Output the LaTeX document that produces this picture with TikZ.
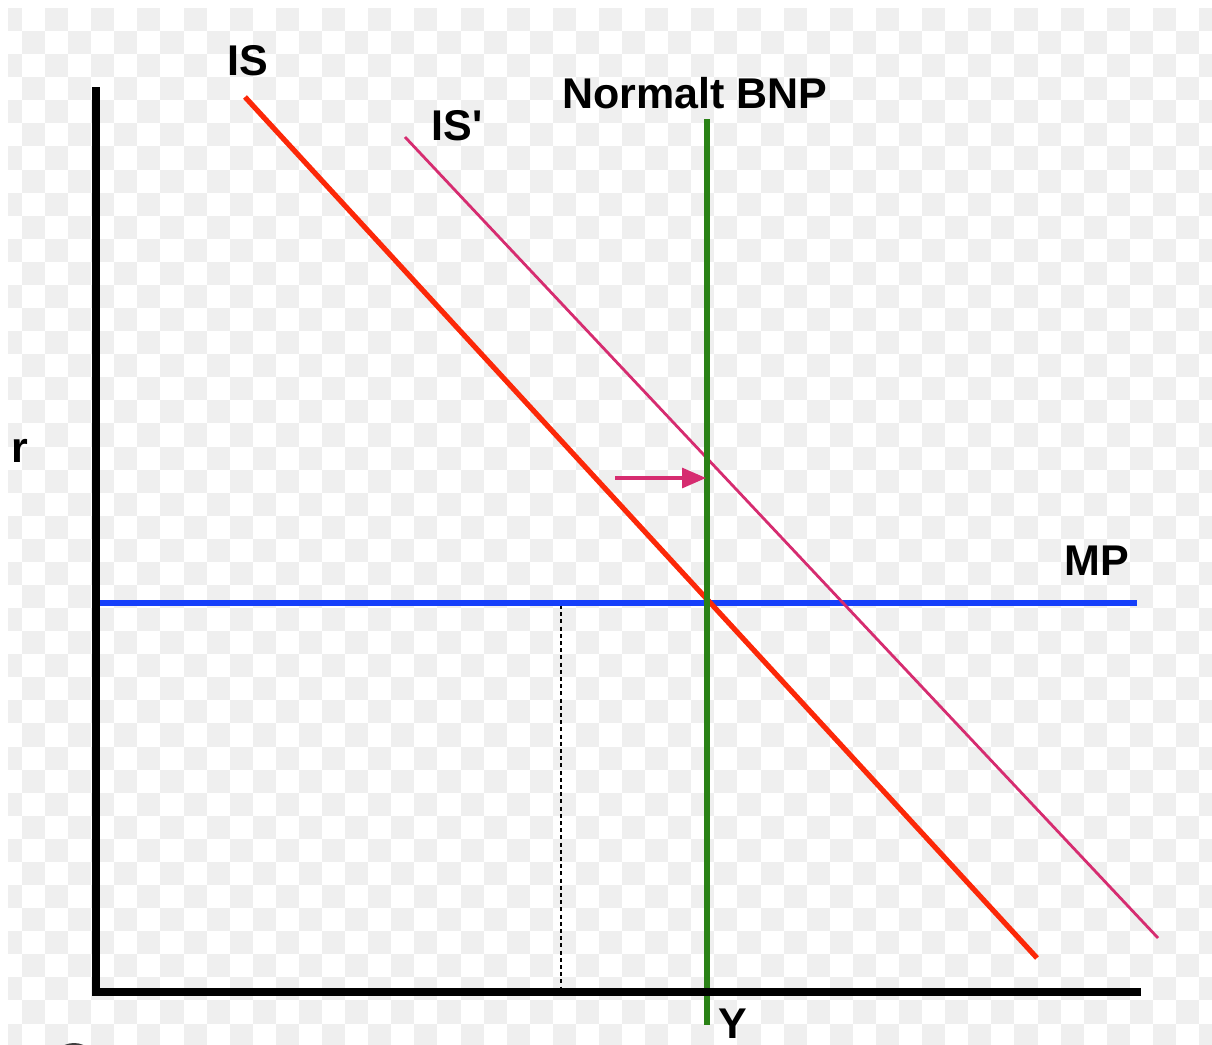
\documentclass[tikz,border=0pt]{standalone}
\usepackage{fontspec}
\setmainfont{Liberation Sans}
\newfontfamily\plainsans{Liberation Sans}[Ligatures=TeXOff]
\usetikzlibrary{arrows.meta}
\definecolor{cellgray}{RGB}{239,239,239}
\definecolor{isred}{RGB}{252,40,8}
\definecolor{isprime}{RGB}{214,44,112}
\definecolor{mpblue}{RGB}{22,64,250}
\definecolor{bnpgreen}{RGB}{42,130,22}
\tikzset{
  axisline/.style={line width=4pt, black, line cap=rect},
  redline/.style={line width=2.6pt, isred},
  primeline/.style={line width=1.4pt, isprime},
  blueline/.style={line width=2.6pt, mpblue},
  greenline/.style={line width=2.6pt, bnpgreen},
  shiftarrow/.style={line width=1.6pt, isprime, -{Triangle[length=12pt,width=10pt]}},
  guide/.style={line width=0.8pt, black, dash pattern=on 2pt off 1.6pt},
  lab/.style={font=\bfseries\fontsize{21.5}{24}\selectfont, inner sep=0pt},
}
\begin{document}
\begin{tikzpicture}[x=0.5pt, y=-0.5pt]
\useasboundingbox (0,0) rectangle (1212,1045);
\fill[white] (0,0) rectangle (1212,1045);
% checkerboard background
\begin{scope}
\clip (8,8) rectangle (1212,1045);
\foreach \r in {0,...,45}{
  \pgfmathtruncatemacro\s{mod(\r,2)}
  \foreach \c in {0,...,27}{
    \fill[cellgray] ({22+(2*\c+\s-1)*23.08}, {8+\r*23.08}) rectangle +(23.08,23.08);
  }
}
\end{scope}
% coordinates
\coordinate (yaxtop) at (96,87);
\coordinate (origin) at (96,992);
\coordinate (xaxend) at (1141,992);
\coordinate (isA) at (245,97);
\coordinate (isB) at (1037,958);
\coordinate (ispA) at (405,137);
\coordinate (ispB) at (1158,938);
\coordinate (mpA) at (100,603);
\coordinate (mpB) at (1137,603);
\coordinate (bnpA) at (707,119);
\coordinate (bnpB) at (707,1025);
\coordinate (arrA) at (615,478);
\coordinate (arrB) at (706,478);
\coordinate (dotA) at (561,605);
\coordinate (dotB) at (561,988);
% guide
\draw[guide] (dotA) -- (dotB);
% curves
\draw[blueline] (mpA) -- (mpB);
\draw[primeline] (ispA) -- (ispB);
\draw[redline] (isA) -- (isB);
\draw[greenline] (bnpA) -- (bnpB);
\draw[shiftarrow] (arrA) -- (arrB);
% axes
\draw[axisline, line cap=butt] (yaxtop) -- (96,996);
\draw[axisline, line cap=butt] (92,992) -- (xaxend);
% partial glyph at bottom left
\begin{scope}
\clip (0,0) rectangle (1212,1045);
\draw[line width=2pt, black!75] (74,1066) circle (21);
\end{scope}
% labels
\node[lab] (lIS) at (248,61) {IS};
\node[lab] (lISp) at (457,126) {\plainsans\bfseries IS'};
\node[lab] (lBNP) at (695,93) {Normalt BNP};
\node[lab] (lr) at (20,451) {r};
\node[lab] (lMP) at (1097,561) {MP};
\node[lab] (lY) at (733,1024) {Y};
\end{tikzpicture}
\end{document}
